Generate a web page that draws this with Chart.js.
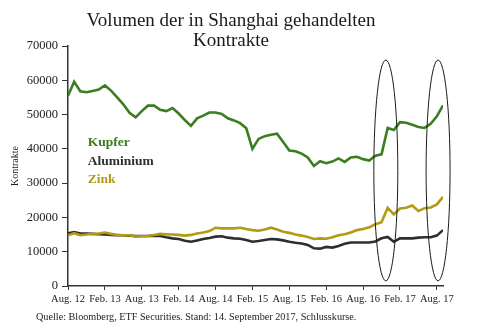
<!DOCTYPE html>
<html>
<head>
<meta charset="utf-8">
<script src="https://cdn.jsdelivr.net/npm/chart.js@4/dist/chart.umd.min.js"></script>
<style>
  html, body { margin: 0; padding: 0; background: #fff; }
  #wrap { width: 500px; height: 336px; position: relative; }
</style>
</head>
<body>
<div id="wrap"><canvas id="chart"></canvas></div>
<script>
  // monthly points, index 0 = Aug 2012
  const tickLabels = ["Aug. 12", "Feb. 13", "Aug. 13", "Feb. 14", "Aug. 14", "Feb. 15",
    "Aug. 15", "Feb. 16", "Aug. 16", "Feb. 17", "Aug. 17"];

  const copper = [
    55500, 59600, 56800, 56500, 56900, 57300, 58500, 57000, 55000, 53000,
    50500, 49200, 51000, 52600, 52600, 51400, 51000, 51900, 50300, 48400,
    46700, 48900, 49700, 50600, 50600, 50200, 48900, 48300, 47500, 46000,
    40000, 42900, 43700, 44100, 44400, 42000, 39500, 39300, 38600, 37500,
    35000, 36400, 35800, 36300, 37200, 36200, 37500, 37700, 37000, 36600,
    38000, 38400, 46100, 45500, 47800, 47600, 47000, 46400, 46100, 47300,
    49500, 52700
  ];
  const aluminium = [
    15400, 15700, 15300, 15300, 15200, 15100, 15000, 14900, 14800, 14800,
    14700, 14600, 14600, 14600, 14700, 14600, 14200, 13900, 13700, 13200,
    12900, 13300, 13700, 14000, 14400, 14500, 14100, 13900, 13800, 13400,
    12900, 13100, 13400, 13700, 13600, 13300, 12900, 12600, 12400, 12000,
    11000, 10900, 11400, 11200, 11700, 12300, 12700, 12700, 12700, 12700,
    13000, 13900, 14300, 12900, 13900, 13900, 13900, 14100, 14200, 14200,
    14700, 16300
  ];
  const zinc = [
    14800, 15400, 14800, 15000, 15200, 15300, 15600, 15200, 14900, 14800,
    14800, 14400, 14500, 14600, 14900, 15200, 15100, 15000, 14900, 14700,
    14900, 15300, 15600, 16000, 17000, 16800, 16800, 16800, 17000, 16600,
    16300, 16100, 16500, 17000, 16500, 15800, 15500, 15000, 14700, 14300,
    13700, 13900, 13800, 14200, 14800, 15100, 15600, 16300, 16600, 17100,
    18000, 18600, 22800, 20900, 22600, 22800, 23500, 21900, 22700, 22900,
    23800, 26000
  ];

  // circled periods (month index of centre, half width in months, value range)
  const circleCenters = [51.7, 60.2];
  const circleHalfWidth = 1.95;
  const circleTop = 65900;
  const circleBottom = 1500;

  const seriesNames = ["Kupfer", "Aluminium", "Zink"];
  const seriesColors = ["#3b7d1f", "#2e2e2e", "#b39a14"];
  const nameX = 3.2;
  const nameY = [40800, 35300, 29950];

  const SERIF = "'Liberation Serif', 'Times New Roman', serif";
  const INK = "#222";

  function toPoints(values) {
    return values.map((v, i) => ({ x: i, y: v }));
  }

  const annotations = {
    id: "annotations",
    afterDraw(chart) {
      const ctx = chart.ctx;
      const xs = chart.scales.x;
      const ys = chart.scales.y;
      ctx.save();

      // title
      ctx.fillStyle = "#1a1a1a";
      ctx.textAlign = "center";
      ctx.textBaseline = "alphabetic";
      ctx.font = "19px " + SERIF;
      ctx.fillText("Volumen der in Shanghai gehandelten", 231, 26);
      ctx.fillText("Kontrakte", 231, 45.5);

      // series names
      ctx.textAlign = "left";
      ctx.font = "bold 13.5px " + SERIF;
      seriesNames.forEach((name, i) => {
        ctx.fillStyle = seriesColors[i];
        ctx.fillText(name, xs.getPixelForValue(nameX), ys.getPixelForValue(nameY[i]));
      });

      // circles
      ctx.strokeStyle = "#1a1a1a";
      ctx.lineWidth = 1;
      circleCenters.forEach((c) => {
        const cx = xs.getPixelForValue(c);
        const rx = xs.getPixelForValue(c + circleHalfWidth) - cx;
        const top = ys.getPixelForValue(circleTop);
        const bottom = ys.getPixelForValue(circleBottom);
        ctx.beginPath();
        ctx.ellipse(cx, (top + bottom) / 2, rx, (bottom - top) / 2, 0, 0, Math.PI * 2);
        ctx.stroke();
      });

      // source line
      ctx.fillStyle = INK;
      ctx.font = "10.2px " + SERIF;
      ctx.fillText("Quelle: Bloomberg, ETF Securities. Stand: 14. September 2017, Schlusskurse.", 36, 320);
      ctx.restore();
    }
  };

  function line(label, values, color) {
    return {
      label,
      data: toPoints(values),
      borderColor: color,
      backgroundColor: color,
      borderWidth: 2.6,
      pointRadius: 0,
      tension: 0,
      fill: false
    };
  }

  new Chart(document.getElementById("chart"), {
    type: "line",
    data: {
      datasets: [
        line("Zink", zinc, seriesColors[2]),
        line("Aluminium", aluminium, seriesColors[1]),
        line("Kupfer", copper, seriesColors[0])
      ]
    },
    options: {
      responsive: true,
      maintainAspectRatio: false,
      animation: false,
      devicePixelRatio: 1,
      layout: { padding: { left: 0, right: 57, top: 46, bottom: 24 } },
      plugins: {
        legend: { display: false },
        title: { display: false },
        tooltip: { enabled: false }
      },
      scales: {
        x: {
          type: "linear",
          min: 0,
          max: 61,
          afterBuildTicks: (scale) => {
            scale.ticks = tickLabels.map((_, i) => ({ value: i * 6 }));
          },
          afterFit: (scale) => { scale.height = 26; },
          ticks: {
            autoSkip: false,
            maxRotation: 0,
            padding: 3,
            color: INK,
            font: { family: SERIF, size: 10.5 },
            callback: (v) => tickLabels[Math.round(v / 6)]
          },
          grid: { drawOnChartArea: false, drawTicks: true, tickLength: 4, color: "#333" },
          border: { display: true, color: "#333", width: 1.5 }
        },
        y: {
          min: 0,
          max: 70000,
          afterFit: (scale) => { scale.width = 68; },
          ticks: {
            stepSize: 10000,
            padding: 4,
            color: INK,
            font: { family: SERIF, size: 12.5 },
            callback: (v) => String(v)
          },
          grid: { drawOnChartArea: false, drawTicks: true, tickLength: 6, color: "#333" },
          border: { display: true, color: "#333", width: 1.5 },
          title: {
            display: true,
            text: "Kontrakte",
            color: INK,
            font: { family: SERIF, size: 10 },
            padding: { top: 9, bottom: 0 }
          }
        }
      }
    },
    plugins: [annotations]
  });
</script>
</body>
</html>
